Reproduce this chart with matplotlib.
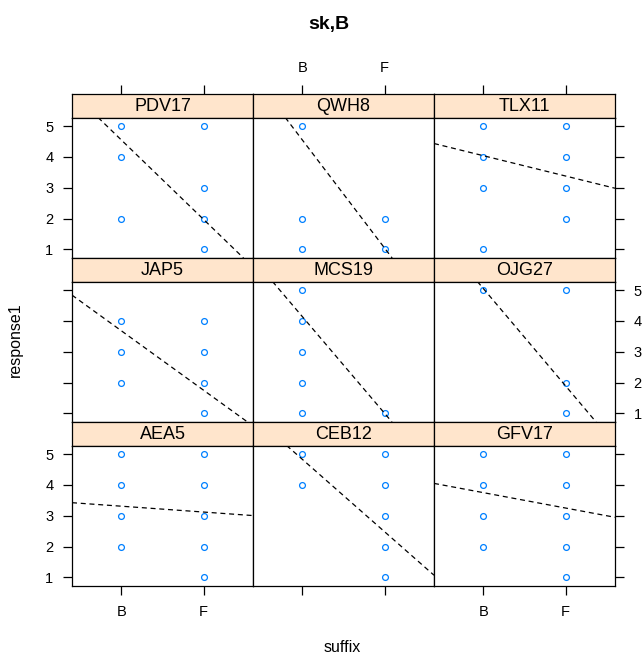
import matplotlib
matplotlib.use('Agg')
from matplotlib import pyplot

pyplot.rcParams['font.family'] = ['Liberation Sans', 'DejaVu Sans']

# panel data (as.table order, left->right, top->bottom)
panel_names = ['PDV17', 'QWH8', 'TLX11', 'JAP5', 'MCS19', 'OJG27', 'AEA5', 'CEB12', 'GFV17']
b_values = [[5, 4, 2], [5, 2, 1], [5, 4, 3, 1], [4, 3, 2], [5, 4, 3, 2, 1], [5],
            [5, 4, 3, 2], [5, 4], [5, 4, 3, 2]]
f_values = [[5, 3, 2, 1], [2, 1], [5, 4, 3, 2], [4, 3, 2, 1], [1], [5, 2, 1],
            [5, 4, 3, 2, 1], [5, 4, 3, 2, 1], [5, 4, 3, 2, 1]]
# fitted lm line, value at B and at F
fit_b = [4.55, 4.55, 4.04, 3.68, 4.14, 5.05, 3.31, 4.83, 3.75]
fit_f = [1.97, 1.04, 3.38, 1.75, 1.00, 1.89, 3.12, 2.48, 3.25]
levels = ['B', 'F']
y_ticks = [1, 2, 3, 4, 5]

W, H = 644, 659
fig = pyplot.figure(figsize=(W / 100, H / 100), dpi=100)

def px_axes(x, y, w, h):
    return fig.add_axes([x / W, 1 - (y + h) / H, w / W, h / H])

col_left = [72, 253, 434]
col_w = 181
row_top = [94, 258, 422]
strip_h = 23.5
panel_h = 140.5
tick_kw = dict(length=6.5, width=0.9, pad=7, labelsize=10.5, colors='black', direction='out')

for i, name in enumerate(panel_names):
    r, c = divmod(i, 3)
    x0 = col_left[c]
    y0 = row_top[r]

    # strip
    st = px_axes(x0, y0, col_w, strip_h)
    st.set_facecolor('#ffe5cc')
    st.set_xlim(0.4, 2.6)
    st.set_ylim(0, 1)
    st.text(0.5, 0.45, name, transform=st.transAxes, ha='center', va='center', fontsize=13)
    st.set_yticks([])
    st.tick_params(axis='x', which='both', bottom=False, labelbottom=False, top=False, labeltop=False)
    if r == 0:
        st.set_xticks([1, 2])
        st.set_xticklabels(levels)
        st.tick_params(axis='x', top=True, labeltop=(c == 1), **tick_kw)
    else:
        st.set_xticks([])
    for s in st.spines.values():
        s.set_linewidth(0.9)

    # panel
    ax = px_axes(x0, y0 + strip_h, col_w, panel_h)
    ax.set_xlim(0.4, 2.6)
    ax.set_ylim(0.72, 5.28)
    ax.plot([1] * len(b_values[i]), b_values[i], 'o', ms=4.2, mfc='none', mec='#0080ff', mew=0.9)
    ax.plot([2] * len(f_values[i]), f_values[i], 'o', ms=4.2, mfc='none', mec='#0080ff', mew=0.9)
    ax.axline((1, fit_b[i]), (2, fit_f[i]), color='black', lw=0.9, linestyle=(0, (4, 3)))

    ax.set_xticks([1, 2])
    ax.set_xticklabels(levels)
    ax.set_yticks(y_ticks)
    ax.tick_params(axis='x', top=False, labeltop=False, bottom=(r == 2),
                   labelbottom=(r == 2 and c != 1), **tick_kw)
    ax.tick_params(axis='y', left=(c == 0), labelleft=(c == 0 and r != 1),
                   right=(c == 2), labelright=(c == 2 and r == 1), **tick_kw)
    for s in ax.spines.values():
        s.set_linewidth(0.9)

fig.text(329 / W, 1 - 25 / H, 'sk,B', ha='center', va='center', fontsize=14, fontweight='bold')
fig.text(15 / W, 1 - 340 / H, 'response1', ha='center', va='center', rotation=90, fontsize=11.5)
fig.text(342 / W, 1 - 648 / H, 'suffix', ha='center', va='center', fontsize=11.5)

pyplot.savefig('out.png', dpi=100)
